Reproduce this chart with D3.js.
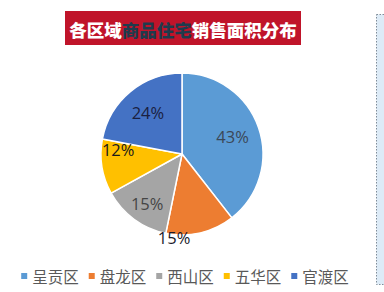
<!DOCTYPE html>
<html>
<head>
<meta charset="utf-8">
<script src="https://cdn.jsdelivr.net/npm/d3@7"></script>
<style>
  html, body { margin: 0; padding: 0; background: #fff; }
  svg { display: block; }
</style>
</head>
<body>
<div id="chart"></div>
<script>
const districts = ["呈贡区", "盘龙区", "西山区", "五华区", "官渡区"];
const shares = [43, 15, 15, 12, 24];
const colors = ["#5b9bd5", "#ed7d31", "#a5a5a5", "#ffc000", "#4472c4"];
const titleParts = [
  { text: "各区域", color: "#ffffff" },
  { text: "商品住宅", color: "#1f3b4d" },
  { text: "销售面积分布", color: "#ffffff" }
];

const width = 384, height = 292;
const cx = 182, cy = 154, radius = 81;

// per-slice label placement (angle override in degrees, radius as share of R)
const labelPlace = [
  { r: 0.66, color: "#3b4858" },
  { angle: 185.4, r: 1.04, color: "#1a1a2a" },
  { angle: 215, r: 0.75, color: "#454545" },
  { angle: 273.6, r: 0.79, color: "#1a1a1a" },
  { r: 0.66, color: "#1a2040" }
];

const svg = d3.select("#chart").append("svg")
  .attr("width", width).attr("height", height);

// side panel on the right edge
svg.append("rect")
  .attr("x", 376.5).attr("y", 14.5)
  .attr("width", 20).attr("height", 270)
  .attr("fill", "#ddebf7")
  .attr("stroke", "#7f8c99")
  .attr("stroke-width", 1)
  .attr("stroke-dasharray", "1.5,1.5");

// title
svg.append("rect")
  .attr("x", 65).attr("y", 11)
  .attr("width", 236).attr("height", 34)
  .attr("fill", "#c0142a");

const title = svg.append("text")
  .attr("x", 183).attr("y", 28.5)
  .attr("text-anchor", "middle")
  .attr("dominant-baseline", "central")
  .attr("font-family", "'Noto Sans CJK SC', sans-serif")
  .attr("font-weight", 900)
  .attr("font-size", 17.5);

title.selectAll("tspan").data(titleParts).enter().append("tspan")
  .attr("fill", d => d.color)
  .text(d => d.text);

// pie
const pie = d3.pie().sort(null).value(d => d)(shares);
const arc = d3.arc().innerRadius(0).outerRadius(radius);

const g = svg.append("g").attr("transform", `translate(${cx},${cy})`);

g.selectAll("path.slice").data(pie).enter().append("path")
  .attr("class", "slice")
  .attr("d", arc)
  .attr("fill", (d, i) => colors[i])
  .attr("stroke", "#fff")
  .attr("stroke-width", 1.5)
  .attr("stroke-linejoin", "round");

g.selectAll("text.label").data(pie).enter().append("text")
  .attr("class", "label")
  .attr("transform", (d, i) => {
    const p = labelPlace[i];
    const a = p.angle !== undefined ? p.angle * Math.PI / 180 : (d.startAngle + d.endAngle) / 2;
    const r = p.r * radius;
    return `translate(${Math.sin(a) * r},${-Math.cos(a) * r})`;
  })
  .attr("text-anchor", "middle")
  .attr("dominant-baseline", "central")
  .attr("font-family", "'Open Sans', 'Noto Sans', sans-serif")
  .attr("font-size", 16.5)
  .attr("fill", (d, i) => labelPlace[i].color)
  .text(d => d.data + "%");

// legend
const legend = svg.append("g").attr("transform", "translate(0,276)");
const items = legend.selectAll("g.item").data(districts).enter().append("g").attr("class", "item");

items.append("rect")
  .attr("y", -3).attr("width", 6).attr("height", 6)
  .attr("fill", (d, i) => colors[i]);

items.append("text")
  .attr("x", 11)
  .attr("dominant-baseline", "central")
  .attr("font-family", "'Noto Sans CJK SC', sans-serif")
  .attr("font-size", 15.5)
  .attr("fill", "#595959")
  .text(d => d);

let offset = 0;
const itemX = [];
items.each(function () {
  itemX.push(offset);
  const w = d3.select(this).select("text").node().getComputedTextLength();
  offset += 11 + w + 10;
});
const total = offset - 10;
const startX = 185 - total / 2;
items.attr("transform", (d, i) => `translate(${startX + itemX[i]},0)`);
</script>
</body>
</html>
